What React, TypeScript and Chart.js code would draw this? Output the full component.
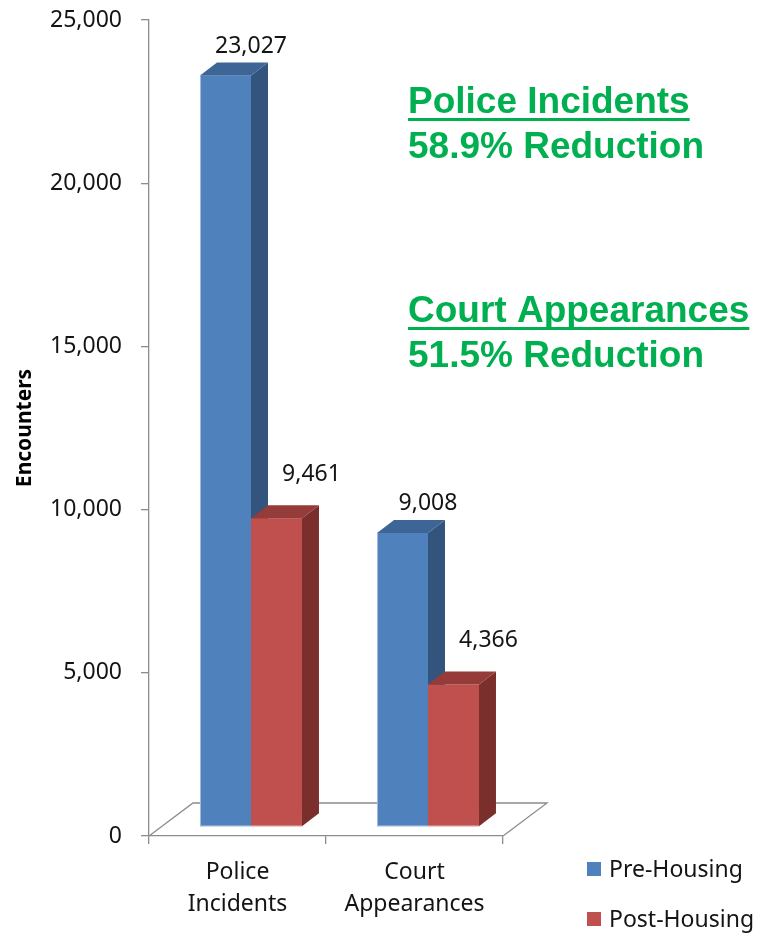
import React, { useEffect, useRef } from 'react';
import { Chart, registerables } from 'chart.js';

Chart.register(...registerables);

// ---------- data ----------
const CATEGORIES = [['Police', 'Incidents'], ['Court', 'Appearances']];
const SERIES_NAMES = ['Pre-Housing', 'Post-Housing'];
const PRE_HOUSING = [23027, 9008];
const POST_HOUSING = [9461, 4366];
const Y_TICKS = [0, 5000, 10000, 15000, 20000, 25000];
const AXIS_TITLE = 'Encounters';
const NOTE_HEADINGS = ['Police Incidents', 'Court Appearances'];
const NOTE_DETAILS = ['58.9% Reduction', '51.5% Reduction'];

// ---------- styles ----------
const FRONT = ['#4F81BD', '#C0504D'];
const SIDE = ['#33547C', '#7B2F2D'];
const TOP = ['#3D6595', '#953B39'];
const GREEN = '#00B050';
const AXIS_GRAY = '#8C8C8C';
const TEXT = '#141414';
const FONT = '"Noto Sans", "Open Sans", sans-serif';
const FONT_SIZE = 23;
const NOTE_FONT = 'bold 37px "Liberation Sans", Arial, sans-serif';

const DEPTH = { dx: 17, dy: -13 }; // bar depth projection
const SHIFT = { dx: 13.5, dy: -9 }; // bars sit mid-floor
const FLOOR = { dx: 44, dy: -33 }; // floor depth projection
const LABEL_OFF = [
  { dx: 25.5, dy: 9.5 },
  { dx: 35, dy: 24.5 },
];

const fmt = (v: number) => Number(v).toLocaleString('en-US');

const threeDPlugin = {
  id: 'threeD',
  beforeDatasetsDraw(chart: any) {
    const { ctx } = chart;
    const xs = chart.scales.x;
    const ys = chart.scales.y;
    const y0 = ys.getPixelForValue(0);
    ctx.save();
    // floor
    ctx.strokeStyle = AXIS_GRAY;
    ctx.lineWidth = 1.3;
    ctx.beginPath();
    ctx.moveTo(xs.left, y0);
    ctx.lineTo(xs.left + FLOOR.dx, y0 + FLOOR.dy);
    ctx.lineTo(xs.right + FLOOR.dx, y0 + FLOOR.dy);
    ctx.lineTo(xs.right, y0);
    ctx.stroke();

    chart.data.datasets.forEach((_ds: any, di: number) => {
      const meta = chart.getDatasetMeta(di);
      if (meta.hidden) return;
      meta.data.forEach((el: any) => {
        const p = el.getProps(['x', 'y', 'base', 'width'], true);
        const l = p.x - p.width / 2 + SHIFT.dx;
        const r = p.x + p.width / 2 + SHIFT.dx;
        const t = p.y + SHIFT.dy;
        const b = p.base + SHIFT.dy;
        // front
        ctx.fillStyle = FRONT[di];
        ctx.fillRect(l, t, r - l, b - t);
        // subtle light edges
        ctx.strokeStyle = 'rgba(255,255,255,0.45)';
        ctx.lineWidth = 1;
        ctx.beginPath();
        if (di === 0) {
          ctx.moveTo(l + 0.5, t);
          ctx.lineTo(l + 0.5, b - 0.5);
        } else {
          ctx.moveTo(l, b - 0.5);
        }
        ctx.lineTo(r, b - 0.5);
        ctx.stroke();
        // side
        ctx.fillStyle = SIDE[di];
        ctx.beginPath();
        ctx.moveTo(r, t);
        ctx.lineTo(r + DEPTH.dx, t + DEPTH.dy);
        ctx.lineTo(r + DEPTH.dx, b + DEPTH.dy);
        ctx.lineTo(r, b);
        ctx.closePath();
        ctx.fill();
        // top
        ctx.fillStyle = TOP[di];
        ctx.beginPath();
        ctx.moveTo(l, t);
        ctx.lineTo(l + DEPTH.dx, t + DEPTH.dy);
        ctx.lineTo(r + DEPTH.dx, t + DEPTH.dy);
        ctx.lineTo(r, t);
        ctx.closePath();
        ctx.fill();
      });
    });
    ctx.restore();
    return false;
  },
  afterDraw(chart: any) {
    const { ctx } = chart;
    const xs = chart.scales.x;
    ctx.save();
    // data labels
    ctx.font = `${FONT_SIZE}px ${FONT}`;
    ctx.fillStyle = TEXT;
    ctx.textAlign = 'center';
    ctx.textBaseline = 'alphabetic';
    chart.data.datasets.forEach((ds: any, di: number) => {
      const meta = chart.getDatasetMeta(di);
      meta.data.forEach((el: any, i: number) => {
        const p = el.getProps(['x', 'y'], true);
        const cx = p.x + SHIFT.dx + LABEL_OFF[di].dx;
        const backTop = p.y + SHIFT.dy + DEPTH.dy;
        ctx.fillText(fmt(ds.data[i]), cx, backTop - LABEL_OFF[di].dy);
      });
    });

    // legend
    ctx.textAlign = 'left';
    const lx = xs.right + 84;
    chart.data.datasets.forEach((ds: any, di: number) => {
      const by = 877 + di * 50;
      ctx.fillStyle = FRONT[di];
      ctx.fillRect(lx, by - 15, 14, 14);
      ctx.fillStyle = TEXT;
      ctx.fillText(ds.label, lx + 22, by);
    });

    // notes
    ctx.font = NOTE_FONT;
    ctx.fillStyle = GREEN;
    const nx = xs.right - 95;
    const noteBase = [113, 322];
    NOTE_HEADINGS.forEach((h, i) => {
      const by = noteBase[i];
      ctx.fillText(h, nx, by);
      const w = ctx.measureText(h).width;
      ctx.fillRect(nx, by + 5, w, 3);
      ctx.fillText(NOTE_DETAILS[i], nx, by + 45);
    });
    ctx.restore();
  },
};

export default function App() {
  const ref = useRef<HTMLCanvasElement | null>(null);

  useEffect(() => {
    document.body.style.margin = '0';
    const canvas = ref.current;
    if (!canvas) return;
    const chart = new Chart(canvas, {
      type: 'bar',
      data: {
        labels: CATEGORIES,
        datasets: [
          { label: SERIES_NAMES[0], data: PRE_HOUSING, backgroundColor: FRONT[0] },
          { label: SERIES_NAMES[1], data: POST_HOUSING, backgroundColor: FRONT[1] },
        ],
      },
      options: {
        responsive: false,
        animation: false,
        devicePixelRatio: 1,
        layout: { padding: { left: 0, top: 20, right: 256, bottom: 0 } },
        datasets: { bar: { categoryPercentage: 0.576, barPercentage: 1 } },
        plugins: { legend: { display: false }, tooltip: { enabled: false } },
        scales: {
          x: {
            grid: {
              display: true,
              offset: true,
              drawOnChartArea: false,
              drawTicks: true,
              tickLength: 8,
              color: AXIS_GRAY,
              lineWidth: 1.3,
            },
            border: { display: true, color: AXIS_GRAY, width: 1.3 },
            ticks: { color: TEXT, font: { family: FONT, size: FONT_SIZE, lineHeight: 32 / FONT_SIZE }, padding: 12, maxRotation: 0 },
            afterFit: (s: any) => {
              s.height = 101;
              s.paddingLeft = 0;
              s.paddingRight = 0;
            },
          },
          y: {
            min: 0,
            max: 25000,
            afterBuildTicks: (s: any) => {
              s.ticks = Y_TICKS.map((v) => ({ value: v }));
            },
            grid: {
              display: true,
              drawOnChartArea: false,
              drawTicks: true,
              tickLength: 8,
              color: AXIS_GRAY,
              lineWidth: 1.3,
            },
            border: { display: true, color: AXIS_GRAY, width: 1.3 },
            ticks: {
              color: TEXT,
              font: { family: FONT, size: FONT_SIZE },
              padding: 19,
              callback: (v: any) => fmt(v),
            },
            title: {
              display: true,
              text: AXIS_TITLE,
              color: '#000',
              font: { family: FONT, size: 21, weight: 'bold' },
              padding: { top: 12, bottom: 0 },
            },
            afterFit: (s: any) => {
              s.width = 149;
              s.paddingTop = 0;
              s.paddingBottom = 0;
            },
          },
        },
      },
      plugins: [threeDPlugin],
    });
    return () => chart.destroy();
  }, []);

  return (
    <div style={{ width: 759, height: 937 }}>
      <canvas ref={ref} width={759} height={937} style={{ display: 'block' }} />
    </div>
  );
}
